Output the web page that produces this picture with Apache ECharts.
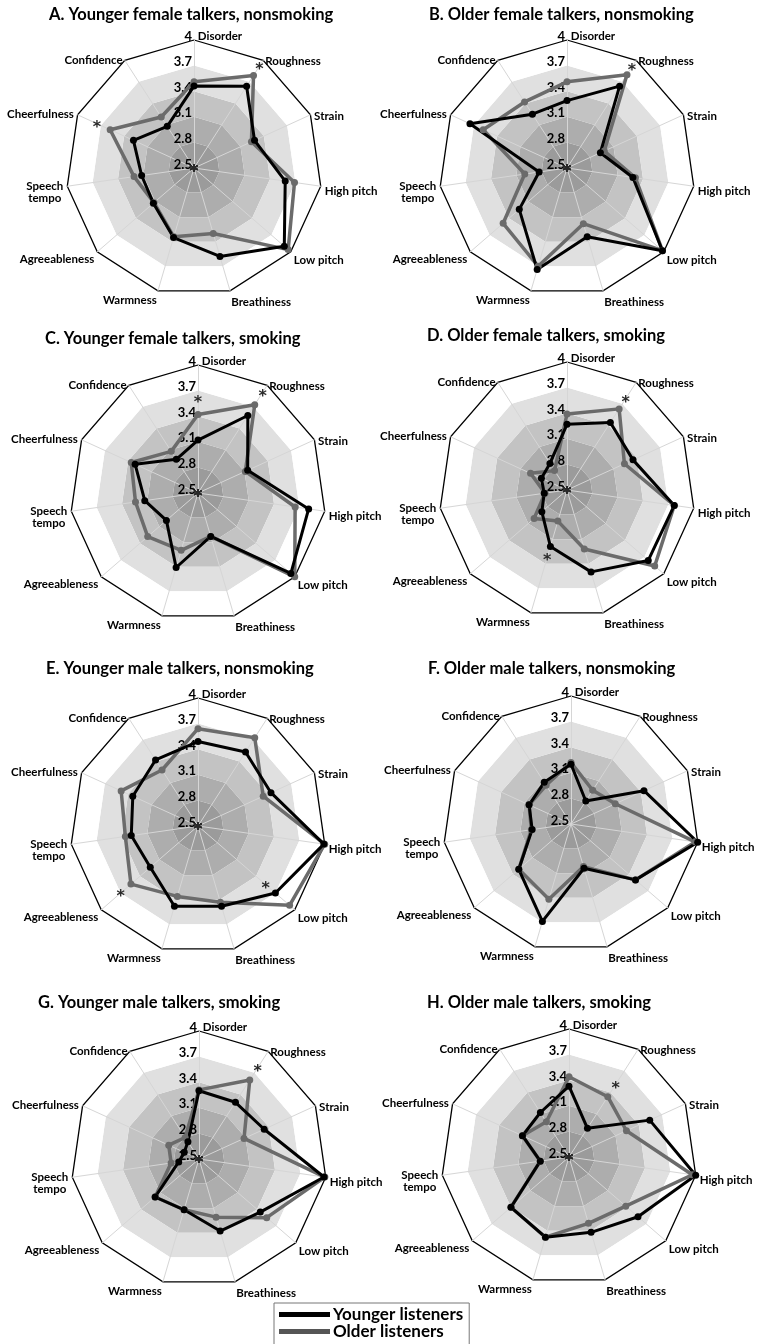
<!DOCTYPE html>
<html lang="en">
	<head>
		<meta charset="UTF-8" />
		<title>Voice ratings by listener age</title>
		<script src="https://cdn.jsdelivr.net/npm/echarts@6/dist/echarts.min.js"></script>
		<style>
			html, body { margin: 0; padding: 0; background: #fff; }
			#chart { width: 758px; height: 1344px; }
		</style>
	</head>
	<body>
		<div id="chart"></div>
		<script>
			// attributes, clockwise from the top
			const attributes = ['Disorder', 'Roughness', 'Strain', 'High pitch', 'Low pitch', 'Breathiness', 'Warmness', 'Agreeableness', 'Speech\ntempo', 'Cheerfulness', 'Confidence']
			const ticks = [2.5, 2.8, 3.1, 3.4, 3.7, 4]
			const seriesNames = ['Younger listeners', 'Older listeners']
			const panelTitles = [
				'A. Younger female talkers, nonsmoking',
				'B. Older female talkers, nonsmoking',
				'C. Younger female talkers, smoking',
				'D. Older female talkers, smoking',
				'E. Younger male talkers, nonsmoking',
				'F. Older male talkers, nonsmoking',
				'G. Younger male talkers, smoking',
				'H. Older male talkers, smoking'
			]

			// mean ratings, same order as attributes
			const youngerA = [3.46, 3.64, 3.28, 3.58, 3.9, 3.58, 3.35, 3.13, 3.12, 3.28, 3.08]
			const olderA = [3.51, 3.79, 3.24, 3.69, 3.96, 3.3, 3.34, 3.12, 3.21, 3.58, 3.21]
			const youngerB = [3.29, 3.64, 2.93, 3.28, 3.98, 3.34, 3.74, 3.24, 2.83, 3.75, 3.25]
			const olderB = [3.51, 3.8, 2.98, 3.31, 3.98, 3.18, 3.7, 3.49, 3.0, 3.58, 3.42]
			const youngerC = [3.12, 3.58, 3.14, 3.81, 3.94, 3.03, 3.41, 2.99, 3.13, 3.31, 2.97]
			const olderC = [3.42, 3.73, 3.11, 3.65, 4.0, 3.03, 3.2, 3.28, 3.24, 3.36, 3.08]
			const youngerD = [3.27, 3.44, 3.35, 3.77, 3.76, 3.5, 3.19, 2.89, 2.77, 2.83, 2.87]
			const olderD = [3.39, 3.63, 3.24, 3.77, 3.86, 3.22, 2.88, 3.01, 2.76, 2.97, 2.77]
			const youngerE = [3.49, 3.53, 3.44, 3.99, 3.7, 3.48, 3.48, 3.24, 3.29, 3.34, 3.42]
			const olderE = [3.64, 3.73, 3.34, 4.0, 3.92, 3.43, 3.36, 3.54, 3.36, 3.49, 3.28]
			const youngerF = [3.2, 2.82, 3.44, 4.0, 3.5, 3.04, 3.69, 3.31, 2.96, 3.04, 3.08]
			const olderF = [3.22, 2.97, 3.07, 3.97, 3.5, 3.02, 3.42, 3.31, 2.97, 3.04, 3.04]
			const youngerG = [3.3, 3.29, 3.34, 3.98, 3.45, 3.38, 3.12, 3.18, 2.74, 2.69, 2.74]
			const olderG = [3.31, 3.6, 3.08, 3.99, 3.55, 3.21, 3.12, 3.18, 2.83, 2.89, 2.8]
			const youngerH = [3.33, 2.9, 3.54, 4.0, 3.57, 3.42, 3.48, 3.4, 2.84, 3.1, 3.12]
			const olderH = [3.44, 3.34, 3.24, 3.96, 3.38, 3.31, 3.48, 3.4, 2.84, 3.1, 2.99]

			// significance marks: [attribute index, radial position]
			const starsA = [[1, 3.92], [9, 3.75]]
			const starsB = [[1, 3.91]]
			const starsC = [[0, 3.6], [1, 3.9]]
			const starsD = [[1, 3.77], [6, 3.32]]
			const starsE = [[4, 3.55], [7, 3.7]]
			const starsF = []
			const starsG = [[1, 3.77]]
			const starsH = [[1, 3.51]]

			const younger = [youngerA, youngerB, youngerC, youngerD, youngerE, youngerF, youngerG, youngerH]
			const older = [olderA, olderB, olderC, olderD, olderE, olderF, olderG, olderH]
			const stars = [starsA, starsB, starsC, starsD, starsE, starsF, starsG, starsH]

			// layout of the 8 panels
			const panels = [
				{ cx: 194, cy: 168, tl: 49, tt: 6 },
				{ cx: 567, cy: 168, tl: 429, tt: 6 },
				{ cx: 198, cy: 493, tl: 45, tt: 330 },
				{ cx: 567, cy: 490, tl: 427, tt: 327 },
				{ cx: 198, cy: 826, tl: 46, tt: 660 },
				{ cx: 571, cy: 824, tl: 428, tt: 660 },
				{ cx: 199, cy: 1159, tl: 38, tt: 994 },
				{ cx: 569, cy: 1157, tl: 427, tt: 994 }
			]
			const font = 'Lato'
			const bandColors = ['#9b9b9b', '#adadad', '#c3c3c3', '#e0e0e0', '#ffffff']
			const youngColor = '#000000'
			const oldColor = '#6b6b6b'
			// per-attribute vertical placement of names (extra top padding)
			const namePad = [0, 8, 6, 9, 0, 2, 0, 10, 11, 2, 6]
			const nameAlignTop = [4, 5, 6]

			// echarts radar runs counter-clockwise, the figure runs clockwise
			const order = attributes.map((a, i) => (i === 0 ? 0 : attributes.length - i))
			const reorder = arr => order.map(i => arr[i])

			const nameRich = { d: { padding: [0, 0, 0, 52] }, c: { align: 'center' } }
			namePad.forEach((p, i) => (nameRich['p' + i] = { padding: [p, 0, 0, 0] }))

			function formatName(name) {
				const i = attributes.indexOf(name)
				if (i === 0) return '{d|' + name + '}'
				if (name.indexOf('\n') > -1) {
					const parts = name.split('\n')
					return '{p' + i + '|' + parts[0] + '}\n{c|' + parts[1] + '}'
				}
				return '{p' + i + '|' + name + '}'
			}

			const chart = echarts.init(document.getElementById('chart'))

			function render() {
				const radar = []
				const title = []
				const series = []
				panels.forEach((p, k) => {
					title.push({
						text: panelTitles[k],
						left: p.tl,
						top: p.tt,
						padding: 0,
						textStyle: { fontFamily: font, fontWeight: 'bold', fontSize: 16.5, color: '#000' }
					})
					radar.push({
						center: [p.cx, p.cy],
						radius: 128,
						startAngle: 90,
						shape: 'polygon',
						splitNumber: ticks.length - 1,
						nameGap: 4,
						indicator: order.map(i => {
							const ind = { name: attributes[i], min: ticks[0], max: ticks[ticks.length - 1] }
							if (i === 0) {
								ind.axisLabel = { show: true }
								ind.nameGap = -2
								ind.nameMoveOverlap = false
							}
							if (nameAlignTop.indexOf(i) > -1) ind.nameTextStyle = { verticalAlign: 'top' }
							return ind
						}),
						axisName: {
							color: '#000',
							fontFamily: font,
							fontWeight: 'bold',
							fontSize: 11.5,
							formatter: formatName,
							rich: nameRich
						},
						axisLine: { lineStyle: { color: '#d6d6d6', width: 1 } },
						axisTick: { show: false },
						axisLabel: {
							show: false,
							margin: 2,
							color: '#000',
							fontFamily: font,
							fontWeight: 'bold',
							fontSize: 13,
							formatter: v => '{t|' + v + '}',
							rich: { t: { padding: [0, 0, 7, 0] } }
						},
						splitLine: { lineStyle: { color: ['rgba(0,0,0,0)', 'rgba(0,0,0,0)', 'rgba(0,0,0,0)', 'rgba(0,0,0,0)', 'rgba(0,0,0,0)', '#000'], width: 1.3 } },
						splitArea: { areaStyle: { color: bandColors } }
					})
					series.push({
						type: 'radar',
						name: seriesNames[1],
						radarIndex: k,
						symbol: 'circle',
						symbolSize: 7,
						lineStyle: { color: oldColor, width: 3.5 },
						itemStyle: { color: oldColor },
						data: [{ value: reorder(older[k]), name: seriesNames[1] }]
					})
					series.push({
						type: 'radar',
						name: seriesNames[0],
						radarIndex: k,
						symbol: 'circle',
						symbolSize: 7,
						lineStyle: { color: youngColor, width: 3 },
						itemStyle: { color: youngColor },
						data: [{ value: reorder(younger[k]), name: seriesNames[0] }]
					})
					if (stars[k].length) {
						const starVals = attributes.map(() => null)
						stars[k].forEach(s => (starVals[s[0]] = s[1]))
						series.push({
							type: 'radar',
							radarIndex: k,
							silent: true,
							symbol: 'circle',
							symbolSize: 1,
							lineStyle: { width: 0, opacity: 0 },
							itemStyle: { color: 'rgba(0,0,0,0)' },
							label: { show: true, formatter: '*', position: 'inside', offset: [0, 4], color: '#2a2a2a', fontFamily: 'DejaVu Sans', fontWeight: 'bold', fontSize: 16 },
							data: [{ value: reorder(starVals) }]
						})
					}
				})
				chart.setOption({
					backgroundColor: '#fff',
					animation: false,
					title: title,
					radar: radar,
					legend: {
						data: [
							{ name: seriesNames[0], itemStyle: { color: youngColor, borderWidth: 0 } },
							{ name: seriesNames[1], itemStyle: { color: '#555', borderWidth: 0 } }
						],
						orient: 'vertical',
						left: 274,
						top: 1303,
						height: 120,
						icon: 'rect',
						itemWidth: 51,
						itemHeight: 5,
						itemGap: 0,
						padding: [3, 6, 30, 5],
						borderColor: '#777',
						borderWidth: 1,
						selectedMode: false,
						textStyle: { fontFamily: font, fontWeight: 'bold', fontSize: 17, color: '#000', padding: [0, 0, 0, -2] }
					},
					series: series
				})
			}
			render()
		</script>
	</body>
</html>
